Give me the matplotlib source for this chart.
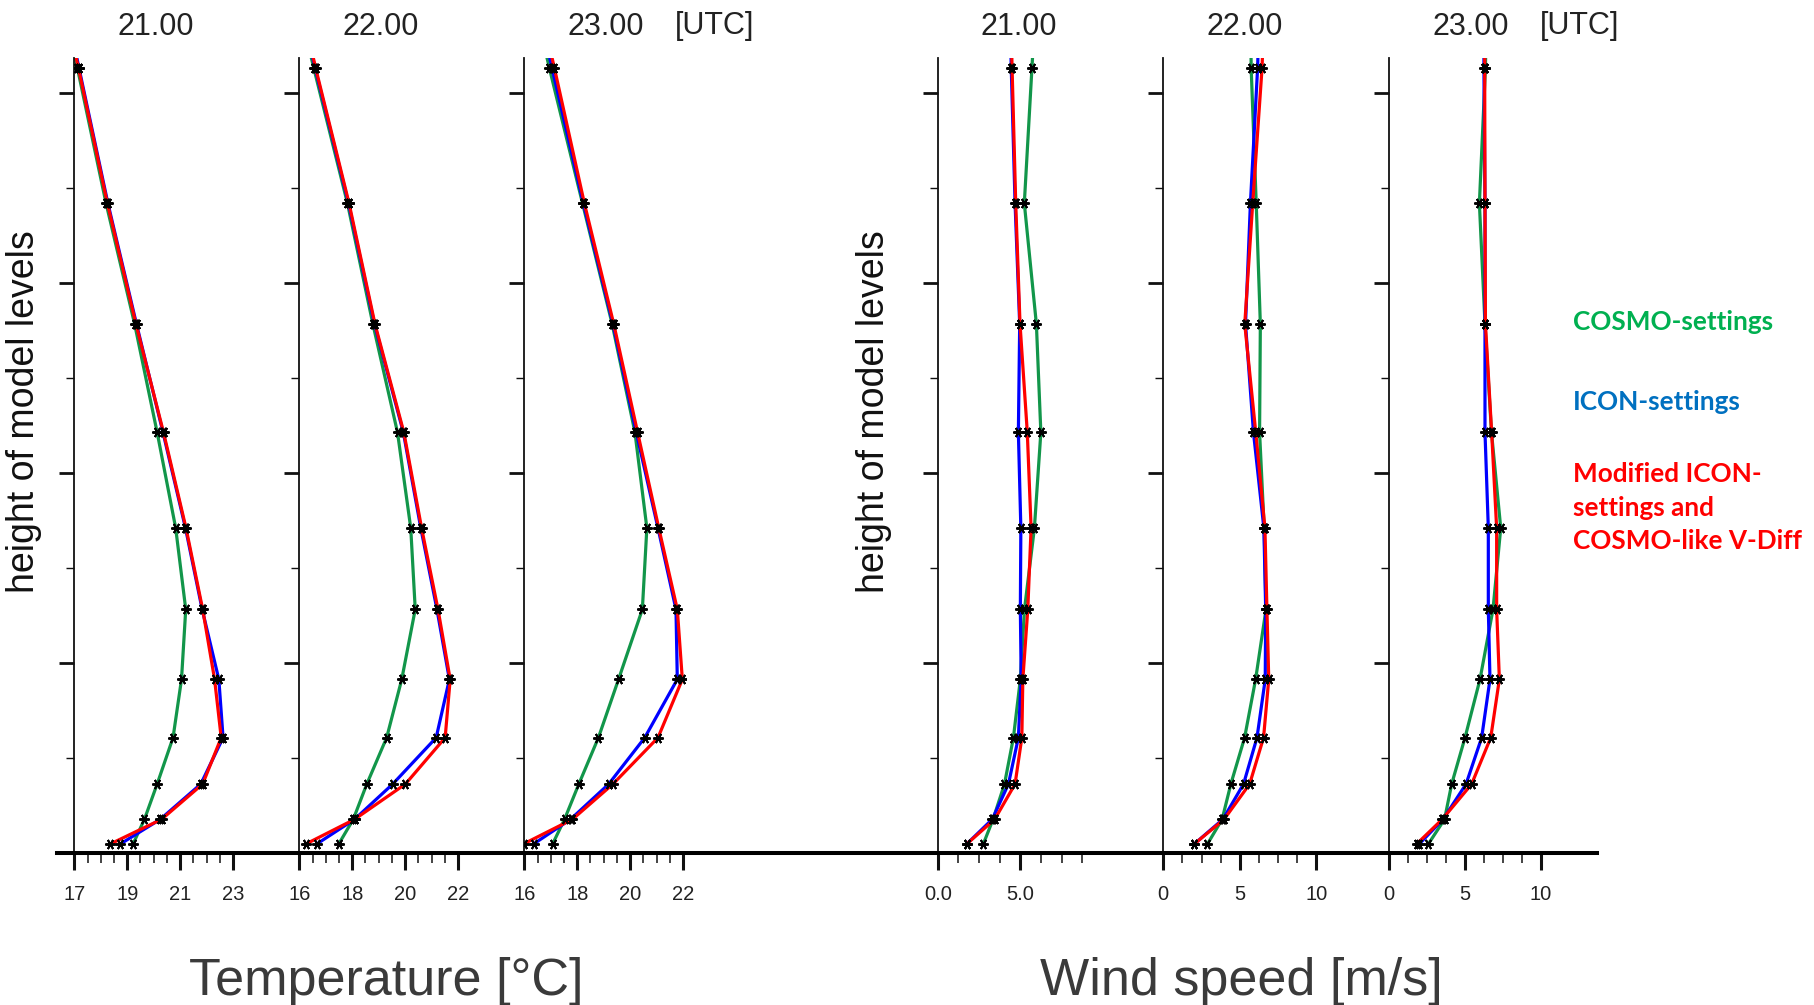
import matplotlib
matplotlib.use("Agg")
import matplotlib.pyplot as plt
from matplotlib.lines import Line2D
from matplotlib.ticker import MultipleLocator, FormatStrFormatter, NullFormatter

plt.rcParams['font.family'] = ['Liberation Sans', 'DejaVu Sans']

# =============================================================================
# Data (profiles from lowest to highest model level)
# =============================================================================
# heights of the model levels (m); the last one lies just above the plot top
LEVELS = [9.5, 35.5, 72.6, 121.4, 182.8, 256.5, 342.1, 442.8, 556.8, 683.9, 826.0, 982.0]
TIMES = ["21.00", "22.00", "23.00"]
RUNS = [["COSMO-settings"], ["ICON-settings"],
        ["Modified ICON-", "settings and", "COSMO-like V-Diff"]]

# temperature [°C], one list per time
T_COSMO = [
    [19.22, 19.65, 20.13, 20.73, 21.05, 21.21, 20.83, 20.13, 19.28, 18.20, 17.12, 16.05],
    [17.49, 18.04, 18.55, 19.30, 19.87, 20.38, 20.21, 19.71, 18.78, 17.82, 16.55, 15.20],
    [17.07, 17.52, 18.06, 18.80, 19.56, 20.46, 20.63, 20.18, 19.32, 18.20, 16.95, 15.65],
]
T_ICON = [
    [18.74, 20.25, 21.78, 22.62, 22.46, 21.83, 21.20, 20.35, 19.35, 18.27, 17.18, 16.00],
    [16.66, 18.09, 19.53, 21.17, 21.67, 21.20, 20.59, 19.93, 18.84, 17.86, 16.60, 15.30],
    [16.35, 17.75, 19.19, 20.55, 21.78, 21.73, 21.05, 20.23, 19.35, 18.23, 17.05, 15.75],
]
T_MOD = [
    [18.36, 20.30, 21.85, 22.55, 22.30, 21.85, 21.22, 20.37, 19.33, 18.25, 17.16, 15.90],
    [16.25, 18.09, 20.01, 21.51, 21.70, 21.24, 20.62, 19.95, 18.86, 17.88, 16.62, 15.35],
    [15.97, 17.82, 19.35, 21.05, 21.97, 21.78, 21.08, 20.28, 19.38, 18.27, 17.14, 15.85],
]

# wind speed [m/s], one list per time
W_COSMO = [
    [2.76, 3.35, 4.04, 4.58, 5.00, 5.25, 5.85, 6.24, 5.97, 5.24, 5.70, 6.20],
    [2.89, 3.85, 4.42, 5.32, 6.04, 6.72, 6.60, 6.30, 6.35, 6.08, 5.75, 5.65],
    [2.58, 3.65, 4.12, 5.00, 5.99, 6.85, 7.36, 6.75, 6.32, 5.95, 6.35, 6.50],
]
W_ICON = [
    [1.76, 3.30, 4.28, 4.88, 5.05, 5.00, 5.03, 4.88, 4.96, 4.68, 4.45, 4.25],
    [2.03, 3.90, 5.25, 6.13, 6.67, 6.70, 6.58, 5.90, 5.38, 5.70, 6.17, 6.45],
    [1.98, 3.55, 5.07, 6.10, 6.65, 6.54, 6.54, 6.32, 6.32, 6.32, 6.25, 6.25],
]
W_MOD = [
    [1.76, 3.45, 4.68, 5.09, 5.15, 5.45, 5.65, 5.42, 4.98, 4.72, 4.50, 4.30],
    [2.03, 3.98, 5.65, 6.56, 6.90, 6.78, 6.65, 6.05, 5.33, 5.85, 6.46, 6.80],
    [1.81, 3.50, 5.44, 6.70, 7.27, 7.09, 7.09, 6.76, 6.35, 6.32, 6.30, 6.30],
]

# x ranges of the panels
T_XMIN = [17, 16, 16]
W_XMAX = [9.8, 10.6, 10.7]

LINE_COLORS = ["#12964a", "#0000ff", "#ff0000"]
TEXT_COLORS = ["#00b050", "#0070c0", "#ff0000"]

# =============================================================================
FIG_W, FIG_H = 1814, 1005
fig = plt.figure(figsize=(FIG_W / 100, FIG_H / 100), dpi=100)

AX_BOTTOM, AX_TOP = 853.0, 58.3
AX_W = 162.0
YTOP = 836.6
T_LEFTS = [74.3, 299.3, 524.3]
W_LEFTS = [937.7, 1163.3, 1389.3]


def make_axes(left):
    ax = fig.add_axes([left / FIG_W, (FIG_H - AX_BOTTOM) / FIG_H,
                       AX_W / FIG_W, (AX_BOTTOM - AX_TOP) / FIG_H])
    for side in ("top", "right", "bottom"):
        ax.spines[side].set_visible(False)
    ax.spines["left"].set_linewidth(1.3)
    ax.spines["left"].set_color("#111111")
    ax.set_ylim(0, YTOP)
    ax.yaxis.set_major_locator(MultipleLocator(200))
    ax.yaxis.set_minor_locator(MultipleLocator(100))
    ax.yaxis.set_major_formatter(NullFormatter())
    ax.tick_params(axis="y", which="major", direction="out", length=11, width=2.0, color="#111111")
    ax.tick_params(axis="y", which="minor", direction="out", length=5.5, width=1.0, color="#111111")
    ax.tick_params(axis="x", which="major", direction="out", length=12, width=2.2,
                   pad=11, labelsize=14.5, labelcolor="#222222", color="#111111")
    ax.tick_params(axis="x", which="minor", direction="out", length=7, width=1.1, color="#111111")
    ax.patch.set_alpha(0)
    return ax


def draw_profiles(ax, series):
    for vals, col in zip(series, LINE_COLORS):
        ax.plot(vals, LEVELS, color=col, lw=2.3, solid_joinstyle="round", zorder=2)
    for vals in series:
        ax.plot(vals, LEVELS, ls="none", marker=(6, 2, 90), ms=7.5, mew=1.4,
                color="black", zorder=3)


for i in range(3):
    ax = make_axes(T_LEFTS[i])
    draw_profiles(ax, [T_COSMO[i], T_ICON[i], T_MOD[i]])
    ax.set_xlim(T_XMIN[i], T_XMIN[i] + 6.12)
    ax.xaxis.set_major_locator(MultipleLocator(2, offset=T_XMIN[i] % 2))
    ax.xaxis.set_minor_locator(MultipleLocator(0.5))
    ax.set_title(TIMES[i], fontsize=22, pad=17, color="#222222")

for i in range(3):
    ax = make_axes(W_LEFTS[i])
    draw_profiles(ax, [W_COSMO[i], W_ICON[i], W_MOD[i]])
    ax.set_xlim(0, W_XMAX[i])
    ax.xaxis.set_major_locator(MultipleLocator(5))
    ax.xaxis.set_minor_locator(MultipleLocator(1.25))
    if i == 0:
        ax.xaxis.set_major_formatter(FormatStrFormatter("%.1f"))
    ax.set_title(TIMES[i], fontsize=22, pad=17, color="#222222")

# continuous thick base line under all panels
fig.add_artist(Line2D([57 / FIG_W, 1597 / FIG_W], [(FIG_H - AX_BOTTOM) / FIG_H] * 2,
                      transform=fig.transFigure, lw=2.9, color="black", zorder=5))

# [UTC] after the last time of each group
for left in (T_LEFTS[2], W_LEFTS[2]):
    fig.text((left + 151) / FIG_W, (FIG_H - 34.3) / FIG_H, "[UTC]", fontsize=22,
             color="#222222", ha="left", va="baseline")

# y labels
for x in (24, 874):
    fig.text(x / FIG_W, (FIG_H - 412) / FIG_H, "height of model levels", fontsize=27,
             rotation=90, ha="center", va="center", color="#111111")

# group labels
fig.text(386 / FIG_W, (FIG_H - 981) / FIG_H, "Temperature [°C]", fontsize=37.5,
         ha="center", va="center", color="#3a3a3a")
fig.text(1241 / FIG_W, (FIG_H - 981) / FIG_H, "Wind speed [m/s]", fontsize=37.5,
         ha="center", va="center", color="#3a3a3a")

# legend as coloured text, one baseline per line
BASELINES = [[330], [410], [481.7, 515.7, 549.3]]
for lines, col, bases in zip(RUNS, TEXT_COLORS, BASELINES):
    for text, base in zip(lines, bases):
        fig.text(1573 / FIG_W, (FIG_H - base) / FIG_H, text, fontsize=18.8, family="Lato",
                 weight="bold", color=col, ha="left", va="baseline")

fig.savefig("out.png", dpi=100)
